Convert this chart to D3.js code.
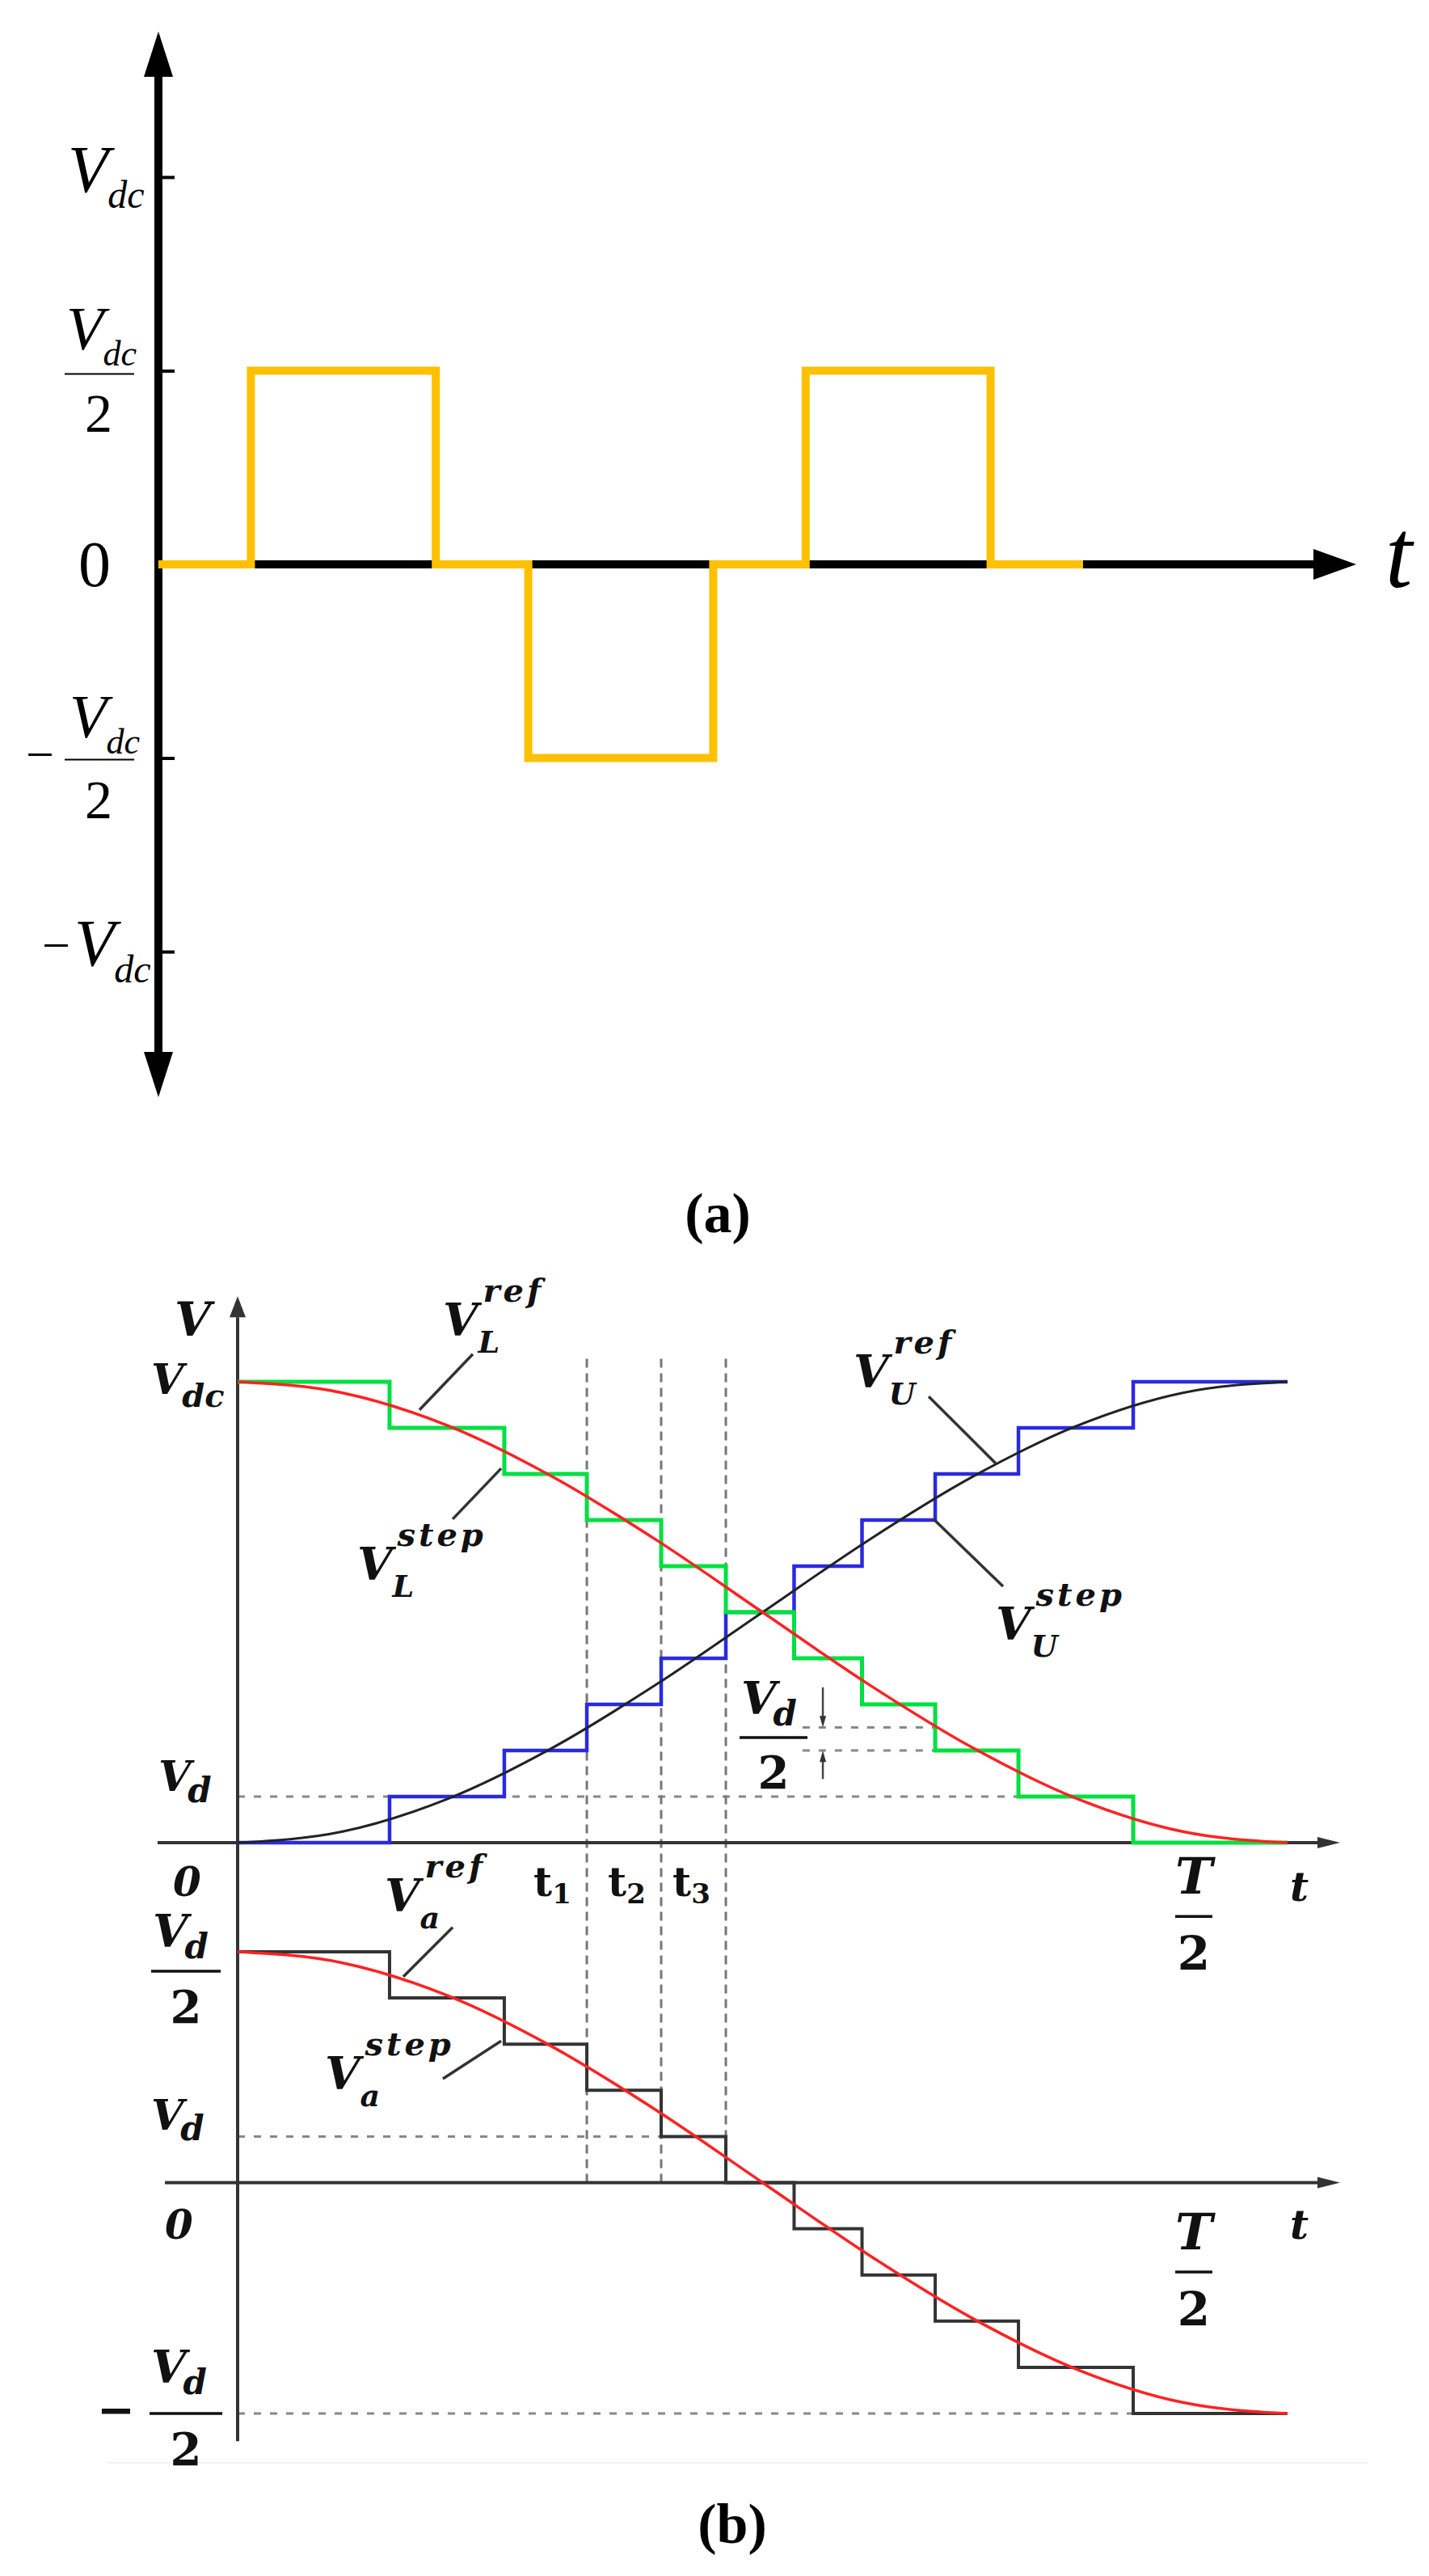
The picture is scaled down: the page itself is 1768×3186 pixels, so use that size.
<!DOCTYPE html>
<html>
<head>
<meta charset="utf-8">
<script src="https://cdn.jsdelivr.net/npm/d3@7"></script>
<style>
  body { margin: 0; background: #fff; }
  svg { display: block; }
  .ti { font-family: "Liberation Serif", "Times New Roman", serif; font-style: italic; }
  .tu { font-family: "Liberation Serif", "Times New Roman", serif; }
  .mb { font-family: "DejaVu Serif", serif; font-weight: bold; font-style: italic; fill: #111; }
  .mu { font-family: "DejaVu Serif", serif; font-weight: bold; fill: #111; }
  .cap { font-family: "Liberation Serif", "Times New Roman", serif; font-weight: bold; }
</style>
</head>
<body>
<div id="chart"></div>
<script>
// panel (a): three-level square wave, time in units, level in Vdc
const waveTimes = [0, 1, 3, 4, 6, 7, 9, 10];
const waveLevels = [0, 0.5, 0, -0.5, 0, 0.5, 0, 0];
const aTicks = [1, 0.5, -0.5, -1];

// panel (b): staircase vs reference, time as fraction of T/2, level in Vd steps
const stepTimes = [0, 0.1447, 0.2540, 0.3326, 0.4034, 0.4650, 0.5300, 0.5947, 0.6644, 0.7437, 0.8530, 1];
const stepL = [10, 9, 8, 7, 6, 5, 4, 3, 2, 1, 0, 0];
const stepU = [0, 1, 2, 3, 4, 5, 6, 7, 8, 9, 10, 10];
const stepA = [5, 4, 3, 2, 1, 0, -1, -2, -3, -4, -5, -5];
const refTimes = [0, 0.1, 0.2, 0.3, 0.4, 0.5, 0.6, 0.7, 0.8, 0.9, 1];
const refL = [10, 9.76, 9.05, 7.94, 6.55, 5.0, 3.45, 2.06, 0.95, 0.24, 0];
const refU = [0, 0.24, 0.95, 2.06, 3.45, 5.0, 6.55, 7.94, 9.05, 9.76, 10];
const refA = [5, 4.76, 4.05, 2.94, 1.55, 0, -1.55, -2.94, -4.05, -4.76, -5];
const markedSteps = [3, 4, 5];          // t1, t2, t3
const markLabels = ["1", "2", "3"];

const W = 1768, H = 3186;
const svg = d3.select("#chart").append("svg").attr("width", W).attr("height", H);
svg.append("rect").attr("width", W).attr("height", H).attr("fill", "#fff");
// faint border of the original figure
svg.append("line").attr("x1", 132).attr("x2", 1692).attr("y1", 3046).attr("y2", 3046)
    .attr("stroke", "#f2f2f2").attr("stroke-width", 2);

// ---------------- panel (a) ----------------
const xA = d3.scaleLinear().domain([0, 10]).range([196, 1340]);
const yA = d3.scaleLinear().domain([-1, 1]).range([1177, 219]);
const ga = svg.append("g");
const ax0 = xA(0), ay0 = yA(0);
const topTip = yA(1) - 180, botTip = yA(-1) + 180, rightTip = xA(10) + 338;

// horizontal axis
ga.append("line").attr("x1", ax0 - 5).attr("x2", rightTip - 50).attr("y1", ay0).attr("y2", ay0)
    .attr("stroke", "#000").attr("stroke-width", 10);
ga.append("path").attr("d", `M${rightTip},${ay0}L${rightTip - 53},${ay0 - 19}L${rightTip - 53},${ay0 + 19}Z`);
// vertical axis
ga.append("line").attr("x1", ax0).attr("x2", ax0).attr("y1", topTip + 54).attr("y2", botTip - 54)
    .attr("stroke", "#000").attr("stroke-width", 10);
ga.append("path").attr("d", `M${ax0},${topTip}L${ax0 - 18},${topTip + 56}L${ax0 + 18},${topTip + 56}Z`);
ga.append("path").attr("d", `M${ax0},${botTip}L${ax0 - 18},${botTip - 56}L${ax0 + 18},${botTip - 56}Z`);

// ticks
const tickG = ga.append("g").attr("transform", `translate(${ax0},0)`)
    .call(d3.axisRight(yA).tickValues(aTicks).tickSize(20).tickFormat(""));
tickG.select(".domain").remove();
tickG.selectAll("line").attr("stroke", "#000").attr("stroke-width", 4);

// square wave
const wave = d3.line()
    .x(i => xA(waveTimes[i]))
    .y(i => yA(waveLevels[i]))
    .curve(d3.curveStepAfter);
ga.append("path").attr("d", wave(d3.range(waveTimes.length)))
    .attr("fill", "none").attr("stroke", "#ffc000").attr("stroke-width", 10)
    .attr("stroke-linejoin", "miter");

// y labels of panel (a)
function vdc(g, x, y, vSize, sSize, dy) {
    g.append("text").attr("class", "ti").attr("x", x).attr("y", y)
        .style("font-size", vSize + "px").text("V");
    g.append("text").attr("class", "ti").attr("x", x + vSize * 0.6).attr("y", y + dy)
        .style("font-size", sSize + "px").text("dc");
}
vdc(ga, 84, yA(1) + 18, 82, 48, 20);
// Vdc / 2
vdc(ga, 82, yA(0.5) - 27, 76, 44, 20);
ga.append("line").attr("x1", 80).attr("x2", 166).attr("y1", yA(0.5) + 4).attr("y2", yA(0.5) + 4)
    .attr("stroke", "#000").attr("stroke-width", 2);
ga.append("text").attr("class", "tu").attr("x", 122).attr("y", yA(0.5) + 75)
    .attr("text-anchor", "middle").style("font-size", "68px").text("2");
// 0
ga.append("text").attr("class", "tu").attr("x", 117).attr("y", yA(0) + 27)
    .attr("text-anchor", "middle").style("font-size", "80px").text("0");
// -Vdc / 2
ga.append("text").attr("class", "tu").attr("x", 32).attr("y", yA(-0.5) + 16)
    .style("font-size", "62px").text("\u2212");
vdc(ga, 86, yA(-0.5) - 26, 76, 44, 20);
ga.append("line").attr("x1", 80).attr("x2", 166).attr("y1", yA(-0.5) + 2).attr("y2", yA(-0.5) + 2)
    .attr("stroke", "#000").attr("stroke-width", 2);
ga.append("text").attr("class", "tu").attr("x", 122).attr("y", yA(-0.5) + 74)
    .attr("text-anchor", "middle").style("font-size", "68px").text("2");
// -Vdc
ga.append("text").attr("class", "tu").attr("x", 52).attr("y", yA(-1) + 13)
    .style("font-size", "62px").text("\u2212");
vdc(ga, 92, yA(-1) + 17, 82, 48, 21);
// t
ga.append("text").attr("class", "ti").attr("x", rightTip + 36).attr("y", ay0 + 28)
    .style("font-size", "120px").text("t");

svg.append("text").attr("class", "cap").attr("x", 888).attr("y", 1524)
    .attr("text-anchor", "middle").style("font-size", "70px").text("(a)");

// ---------------- panel (b) ----------------
const xB = d3.scaleLinear().domain([0, 1]).range([294, 1593]);
const yT = d3.scaleLinear().domain([0, 10]).range([2279, 1709]);
const yBt = d3.scaleLinear().domain([-5, 5]).range([2985, 2414]);
const gb = svg.append("g");
const bx0 = xB(0);

// guide lines
const dashed = (x1, x2, y) => gb.append("line").attr("x1", x1).attr("x2", x2).attr("y1", y).attr("y2", y)
    .attr("stroke", "#888").attr("stroke-width", 3).attr("stroke-dasharray", "9 11");
dashed(bx0, xB(stepTimes[9]), yT(1));
dashed(xB(0.538), xB(stepTimes[8]), yT(2.5));
dashed(xB(0.538), xB(stepTimes[8]), yT(2));
dashed(bx0, xB(stepTimes[5]), yBt(1));
dashed(bx0, xB(stepTimes[10]), yBt(-5));

markedSteps.forEach(k => {
    gb.append("line").attr("x1", xB(stepTimes[k])).attr("x2", xB(stepTimes[k]))
        .attr("y1", yT(10.5)).attr("y2", yBt(0))
        .attr("stroke", "#777").attr("stroke-width", 3).attr("stroke-dasharray", "11 7");
});

// axes
const axisCol = "#333";
gb.append("line").attr("x1", bx0).attr("x2", bx0).attr("y1", yT(11.4)).attr("y2", yBt(-5.6))
    .attr("stroke", axisCol).attr("stroke-width", 4);
gb.append("path").attr("fill", axisCol)
    .attr("d", `M${bx0},${yT(11.4) - 26}L${bx0 - 10},${yT(11.4)}L${bx0 + 10},${yT(11.4)}Z`);
[[yT(0), bx0 - 99], [yBt(0), bx0 - 90]].forEach(([y, xs]) => {
    gb.append("line").attr("x1", xs).attr("x2", xB(1) + 40).attr("y1", y).attr("y2", y)
        .attr("stroke", axisCol).attr("stroke-width", 4);
    gb.append("path").attr("fill", axisCol)
        .attr("d", `M${xB(1) + 65},${y}L${xB(1) + 37},${y - 7}L${xB(1) + 37},${y + 7}Z`);
});

// staircases and references
const stairs = (ys, lv) => d3.line()
    .x((d, i) => xB(stepTimes[i]))
    .y((d, i) => ys(lv[i]))
    .curve(d3.curveStepAfter)(lv);
const smooth = (ys, lv) => d3.line()
    .x((d, i) => xB(refTimes[i]))
    .y((d, i) => ys(lv[i]))
    .curve(d3.curveMonotoneX)(lv);

gb.append("path").attr("d", stairs(yT, stepU)).attr("fill", "none")
    .attr("stroke", "#2a2ae0").attr("stroke-width", 4.5);
gb.append("path").attr("d", stairs(yT, stepL)).attr("fill", "none")
    .attr("stroke", "#00e040").attr("stroke-width", 5);
gb.append("path").attr("d", smooth(yT, refU)).attr("fill", "none")
    .attr("stroke", "#222").attr("stroke-width", 3);
gb.append("path").attr("d", smooth(yT, refL)).attr("fill", "none")
    .attr("stroke", "#f22").attr("stroke-width", 3.5);
gb.append("path").attr("d", stairs(yBt, stepA)).attr("fill", "none")
    .attr("stroke", "#333").attr("stroke-width", 4);
gb.append("path").attr("d", smooth(yBt, refA)).attr("fill", "none")
    .attr("stroke", "#f22").attr("stroke-width", 3.5);

// leader lines (t, level)
const leadersTop = [[[0.224, 10.60], [0.1732, 9.39]], [[0.251, 8.12], [0.2048, 7.02]],
                    [[0.6582, 9.68], [0.7221, 8.23]], [[0.6628, 7.02], [0.7290, 5.56]]];
const leadersBot = [[[0.2048, 5.53], [0.1578, 4.46]], [[0.2510, 3.07], [0.1955, 2.25]]];
const leader = (ys) => ([[ta, va], [tb, vb]]) => gb.append("line")
    .attr("x1", xB(ta)).attr("y1", ys(va)).attr("x2", xB(tb)).attr("y2", ys(vb))
    .attr("stroke", "#333").attr("stroke-width", 3.5);
leadersTop.forEach(leader(yT));
leadersBot.forEach(leader(yBt));

// half-step arrows
const ax = xB(0.5574);
gb.append("line").attr("x1", ax).attr("x2", ax).attr("y1", yT(3.37)).attr("y2", yT(2.62))
    .attr("stroke", "#444").attr("stroke-width", 2.5);
gb.append("path").attr("fill", "#333").attr("d", `M${ax},${yT(2.5)}L${ax - 4},${yT(2.75)}L${ax + 4},${yT(2.75)}Z`);
gb.append("line").attr("x1", ax).attr("x2", ax).attr("y1", yT(1.38)).attr("y2", yT(1.88))
    .attr("stroke", "#444").attr("stroke-width", 2.5);
gb.append("path").attr("fill", "#333").attr("d", `M${ax},${yT(2)}L${ax - 4},${yT(1.75)}L${ax + 4},${yT(1.75)}Z`);

// labels
function scripted(x, y, base, sup, sub, o = {}) {
    const size = o.size || 56, small = o.small || 40;
    const b = gb.append("text").attr("class", "mb").attr("x", x).attr("y", y)
        .style("font-size", size + "px").text(base);
    const w = b.node().getComputedTextLength() + (o.gap || 0);
    if (sup) gb.append("text").attr("class", "mb").attr("x", x + w + 6).attr("y", y - 42)
        .style("font-size", small + "px").style("letter-spacing", "4px").text(sup);
    if (sub) gb.append("text").attr("class", o.subUp ? "mu" : "mb").attr("x", x + w + (o.subDx || 0))
        .attr("y", y + (o.subDy || 21)).style("font-size", (o.subSize || 38) + "px").text(sub);
}
function frac(x, yNum, yBar, yDen, num, sub, barW) {
    scripted(x, yNum, num, null, sub, { size: 56, subSize: 42, subDy: 14, gap: -4 });
    gb.append("line").attr("x1", x - 2).attr("x2", x - 2 + barW).attr("y1", yBar).attr("y2", yBar)
        .attr("stroke", "#111").attr("stroke-width", 3.5);
    gb.append("text").attr("class", "mu").attr("x", x - 2 + barW / 2).attr("y", yDen)
        .attr("text-anchor", "middle").style("font-size", "56px").text("2");
}

scripted(bx0 - 78, yT(11.0), "V", null, null, { size: 58 });
scripted(bx0 - 107, yT(9.74), "V", null, "dc", { size: 52, subSize: 40, subDy: 16, gap: -2 });
scripted(bx0 - 98, yT(1.12), "V", null, "d", { size: 52, subSize: 42, subDy: 14, gap: -4 });
gb.append("text").attr("class", "mb").attr("x", bx0 - 80).attr("y", yT(-1.16)).style("font-size", "50px").text("0");

scripted(xB(0.1955), yT(11.0), "V", "ref", "L");
scripted(xB(0.1139), yT(5.70), "V", "step", "L");
scripted(xB(0.5866), yT(9.88), "V", "ref", "U");
scripted(xB(0.7221), yT(4.40), "V", "step", "U");
frac(xB(0.4796), yT(2.79), yT(2.28), yT(1.18), "V", "d", 84);

markedSteps.forEach((k, i) => {
    const t = gb.append("text").attr("class", "mu").attr("x", xB(stepTimes[k]) - 66).attr("y", yT(-1.16));
    t.append("tspan").style("font-size", "50px").text("t");
    t.append("tspan").style("font-size", "34px").attr("dy", 9).text(markLabels[i]);
});

// T/2 and t for both axes
[[yT, -1.105, -1.6, -2.75, -1.26], [yBt, -1.445, -1.935, -3.09, -1.217]].forEach(([ys, vT, vBar, vDen, vt]) => {
    gb.append("text").attr("class", "mb").attr("x", xB(0.9107)).attr("y", ys(vT))
        .attr("text-anchor", "middle").style("font-size", "62px").text("T");
    gb.append("line").attr("x1", xB(0.9107) - 23).attr("x2", xB(0.9107) + 23)
        .attr("y1", ys(vBar)).attr("y2", ys(vBar)).attr("stroke", "#111").attr("stroke-width", 3.5);
    gb.append("text").attr("class", "mu").attr("x", xB(0.9107)).attr("y", ys(vDen))
        .attr("text-anchor", "middle").style("font-size", "58px").text("2");
    gb.append("text").attr("class", "mb").attr("x", xB(1.0023)).attr("y", ys(vt))
        .style("font-size", "50px").text("t");
});

// lower panel labels
scripted(xB(0.1401), yBt(5.875), "V", "ref", "a");
scripted(xB(0.0831), yBt(2.023), "V", "step", "a");
frac(bx0 - 105, yBt(5.105), yBt(4.58), yBt(3.46), "V", "d", 86);
scripted(bx0 - 107, yBt(1.147), "V", null, "d", { size: 52, subSize: 42, subDy: 13, gap: -4 });
gb.append("text").attr("class", "mb").attr("x", bx0 - 90).attr("y", yBt(-1.217)).style("font-size", "50px").text("0");
gb.append("text").attr("class", "mu").attr("x", bx0 - 174).attr("y", yBt(-5) + 15)
    .style("font-size", "56px").text("\u2212");
frac(bx0 - 107, yBt(-4.33), yBt(-5), yBt(-6.12), "V", "d", 90);

svg.append("text").attr("class", "cap").attr("x", 906).attr("y", 3145)
    .attr("text-anchor", "middle").style("font-size", "70px").text("(b)");
</script>
</body>
</html>
